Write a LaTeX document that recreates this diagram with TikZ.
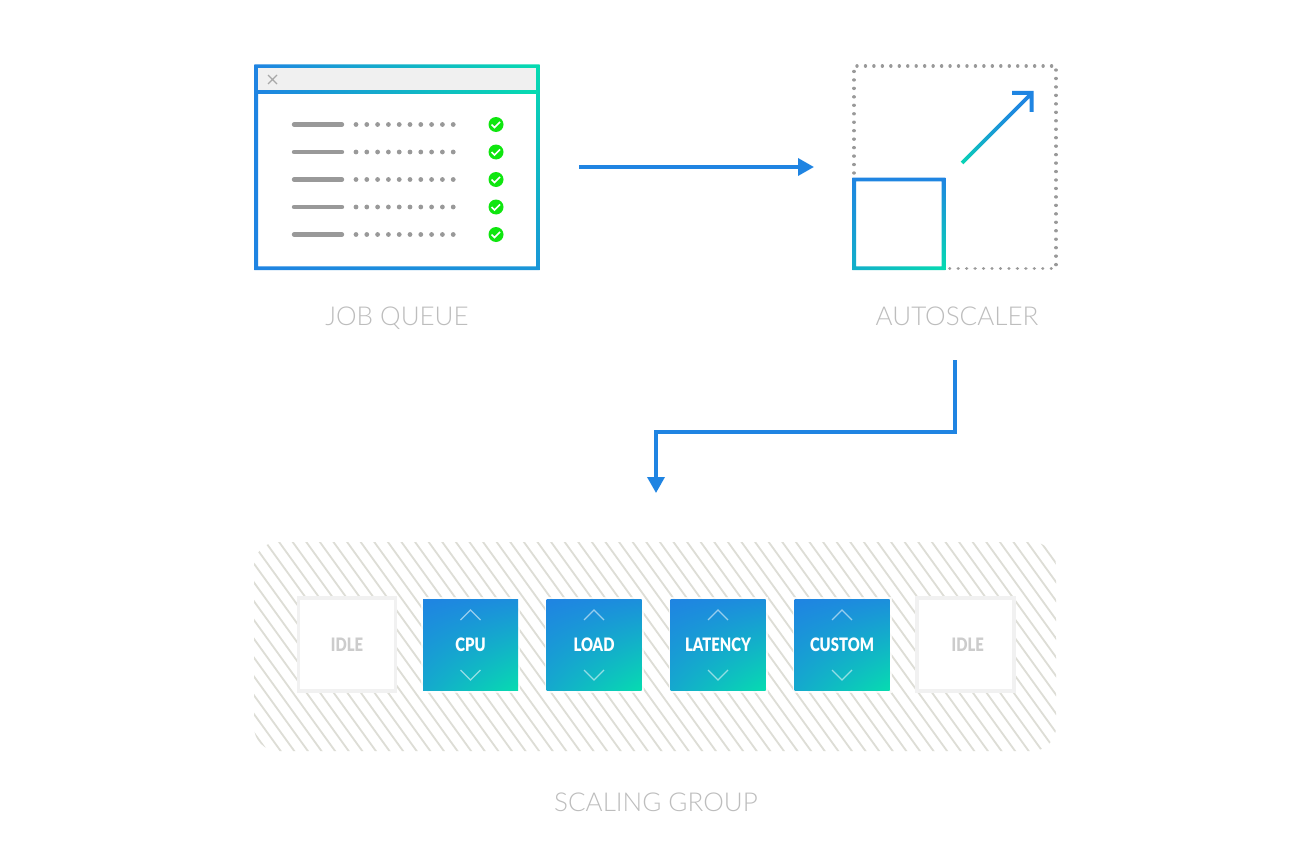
\documentclass[tikz,border=0pt]{standalone}
\usepackage{fontspec}
\setmainfont{Lato Light}
\newfontfamily\boxfont[FakeStretch=0.8]{Lato Black}
\usetikzlibrary{calc}
\usetikzlibrary{arrows.meta}
\usetikzlibrary{shadings}

\definecolor{gradblue}{HTML}{1F84E2}
\definecolor{gradteal}{HTML}{06DCB0}
\definecolor{linegray}{HTML}{999999}
\definecolor{labelgray}{HTML}{BDBDBD}
\definecolor{idlegray}{HTML}{CCCCCC}
\definecolor{hatchgray}{HTML}{DDDDD6}
\definecolor{idleedge}{HTML}{F1F1F1}
\definecolor{checkgreen}{HTML}{0FE60F}

\tikzset{
  caption/.style={text=labelgray,font=\fontsize{26}{26}\selectfont,inner sep=0pt,anchor=base},
  flow/.style={draw=gradblue,line width=3.5pt,-{Triangle[length=16pt,width=17pt]}},
  dotline/.style={draw=linegray,line width=3.4pt,line cap=round,dash pattern=on 0.01pt off 8.45pt},
  idlebox/.style={draw=idleedge,line width=3.2pt,fill=white,minimum width=97pt,minimum height=93pt,
    inner sep=0pt,text=idlegray,font=\boxfont\fontsize{18.5}{19}\selectfont},
  metric/.style={text=white,inner sep=0pt,font=\boxfont\fontsize{18.5}{19}\selectfont},
  tick/.style={draw=white,line width=1.2pt,opacity=.55}
}

\begin{document}
\begin{tikzpicture}[x=1pt,y=-1pt]
\useasboundingbox (0,0) rectangle (1300,864);
\fill[white] (0,0) rectangle (1300,864);

% job queue window
\begin{scope}[even odd rule]
\clip (254.3,64.3) rectangle (539.5,270) (258,68) rectangle (536,266.3);
\shade[lower left=gradblue,lower right=gradblue!80!gradteal,upper left=gradblue,upper right=gradteal] (254.3,64.3) rectangle (539.5,270);
\end{scope}
\fill[black!6] (258,68) rectangle (536,90);
\shade[left color=gradblue,right color=gradteal] (256,90.5) rectangle (538,93.5);
\draw[linegray!85,line width=1.4pt] (268,75) -- (277,84) (277,75) -- (268,84);
\foreach \y in {124.5,152,179.5,207,234.5}{
  \draw[linegray,line width=4.4pt,line cap=round] (294,\y) -- (342,\y);
  \foreach \k in {0,...,9}{
    \fill[linegray] ({356+10.8*\k},\y) circle (2.4pt);
  }
  \fill[checkgreen] (496,\y) circle (7.5pt);
  \draw[white,line width=1.6pt] (491.5,\y) -- ++(3,3) -- ++(5.5,-5.5);
}
\node[caption] (jobs) at (397,325.5) {JOB QUEUE};

% autoscaler
\draw[dotline] (854,173) -- (854,66) -- (1056,66) -- (1056,268.3) -- (945,268.3);
\begin{scope}[even odd rule]
\clip (852.3,177.7) rectangle (945.3,270) (856,181.3) rectangle (941.7,266.4);
\shade[upper left=gradblue,upper right=gradblue,lower left=gradblue!50!gradteal,lower right=gradteal] (852.3,177.7) rectangle (945.3,270);
\end{scope}
\begin{scope}
\clip (960.7,161.7) -- (1027.4,95) -- (1012,95) -- (1012,91) -- (1033.5,91) -- (1033.5,112) -- (1029.5,112) -- (1029.5,98) -- (963.3,164.3) -- cycle;
\shade[upper right=gradblue,upper left=gradblue,lower left=gradteal,lower right=gradblue] (958,90) rectangle (1034,166);
\end{scope}
\node[caption] (scaler) at (957,325.5) {AUTOSCALER};

% flow arrows
\coordinate (qout) at (579,167);
\coordinate (qin) at (814,167);
\coordinate (sout) at (955,360);
\coordinate (turn) at (656,432);
\coordinate (gin) at (656,493);
\draw[flow] (qout) -- (qin);
\draw[flow] (sout) |- (turn) -- (gin);

% scaling group
\begin{scope}
\clip[rounded corners=24pt] (254,542) rectangle (1056,751);
\foreach \k in {0,...,80}{
  \draw[hatchgray,line width=1.8pt] ({80+13.6*\k},530) -- ({80+13.6*\k+170},765);
}
\end{scope}
\node[idlebox] (idleA) at (347,644.5) {IDLE};
\node[idlebox] (idleB) at (965.5,644.5) {\hspace*{4.5pt}IDLE};
\foreach \cx/\cname/\ctext in {470.5/cpu/CPU,594/load/LOAD,718/latency/LATENCY,842/custom/CUSTOM}{
  \fill[white,opacity=.8] (\cx-49.5,597) rectangle (\cx+49.5,693);
  \shade[upper left=gradblue,upper right=gradblue!88!gradteal,lower left=gradblue!58!gradteal,lower right=gradteal] (\cx-47.5,599) rectangle (\cx+47.5,690.5);
  \node[metric] (\cname) at (\cx,645) {\ctext};
  \draw[tick] (\cx-10,620) -- (\cx,610) -- (\cx+10,620);
  \draw[tick] (\cx-10,670) -- (\cx,680) -- (\cx+10,670);
}
\node[caption] (group) at (656,811) {SCALING GROUP};
\end{tikzpicture}
\end{document}
